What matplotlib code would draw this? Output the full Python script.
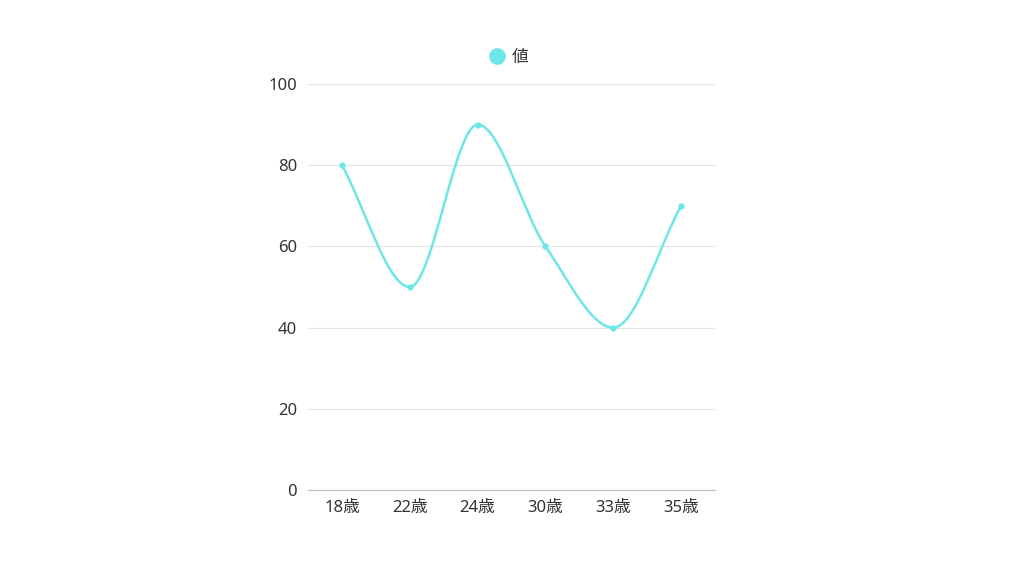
import matplotlib
matplotlib.use('Agg')
import matplotlib.pyplot as plt
from matplotlib.path import Path
from matplotlib.patches import PathPatch
import numpy as np

categories = ['18歳', '22歳', '24歳', '30歳', '33歳', '35歳']
values = [80, 50, 90, 60, 40, 70]
series_name = '値'
color = '#6ee6e8'

plt.rcParams['font.family'] = ['Noto Sans', 'Noto Sans CJK JP', 'DejaVu Sans']

fig = plt.figure(figsize=(10.24, 5.76), dpi=100)
ax = fig.add_axes([0.3008, 0.1493, 0.3975, 0.7049])

x = np.arange(len(values), dtype=float)
y = np.array(values, dtype=float)

# monotone cubic tangents (Fritsch-Carlson)
d = np.diff(y) / np.diff(x)
m = np.zeros_like(y)
m[0] = d[0]
m[-1] = d[-1]
for i in range(1, len(y) - 1):
    if d[i - 1] * d[i] <= 0:
        m[i] = 0
    else:
        m[i] = 2 / (1 / d[i - 1] + 1 / d[i])

verts = [(x[0], y[0])]
codes = [Path.MOVETO]
for i in range(len(y) - 1):
    h = x[i + 1] - x[i]
    verts += [(x[i] + h / 3, y[i] + m[i] * h / 3),
              (x[i + 1] - h / 3, y[i + 1] - m[i + 1] * h / 3),
              (x[i + 1], y[i + 1])]
    codes += [Path.CURVE4] * 3
ax.add_patch(PathPatch(Path(verts, codes), fill=False, edgecolor=color, lw=1.8, zorder=3))
ax.plot(x, y, 'o', color=color, markersize=3.5, zorder=4)

ax.set_xlim(-0.5, len(values) - 0.5)
ax.set_ylim(0, 100)
ax.set_yticks([0, 20, 40, 60, 80, 100])
ax.set_xticks(x)
ax.set_xticklabels(categories)
ax.grid(axis='y', color='#e3e3e3', lw=0.8)
ax.set_axisbelow(True)
for s in ['top', 'right', 'left']:
    ax.spines[s].set_visible(False)
ax.spines['bottom'].set_color('#bbbbbb')
ax.tick_params(axis='both', length=0, labelsize=12, labelcolor='#333333')
ax.tick_params(axis='y', pad=8)
ax.tick_params(axis='x', pad=7)

fig.legend(handles=[plt.Line2D([], [], marker='o', ls='', color=color, markersize=11)],
           labels=[series_name], loc='center', bbox_to_anchor=(0.4946, 0.899),
           frameon=False, fontsize=12, handletextpad=0.15, handlelength=1.5,
           labelcolor='#333333')

fig.savefig('out.png', dpi=100)
